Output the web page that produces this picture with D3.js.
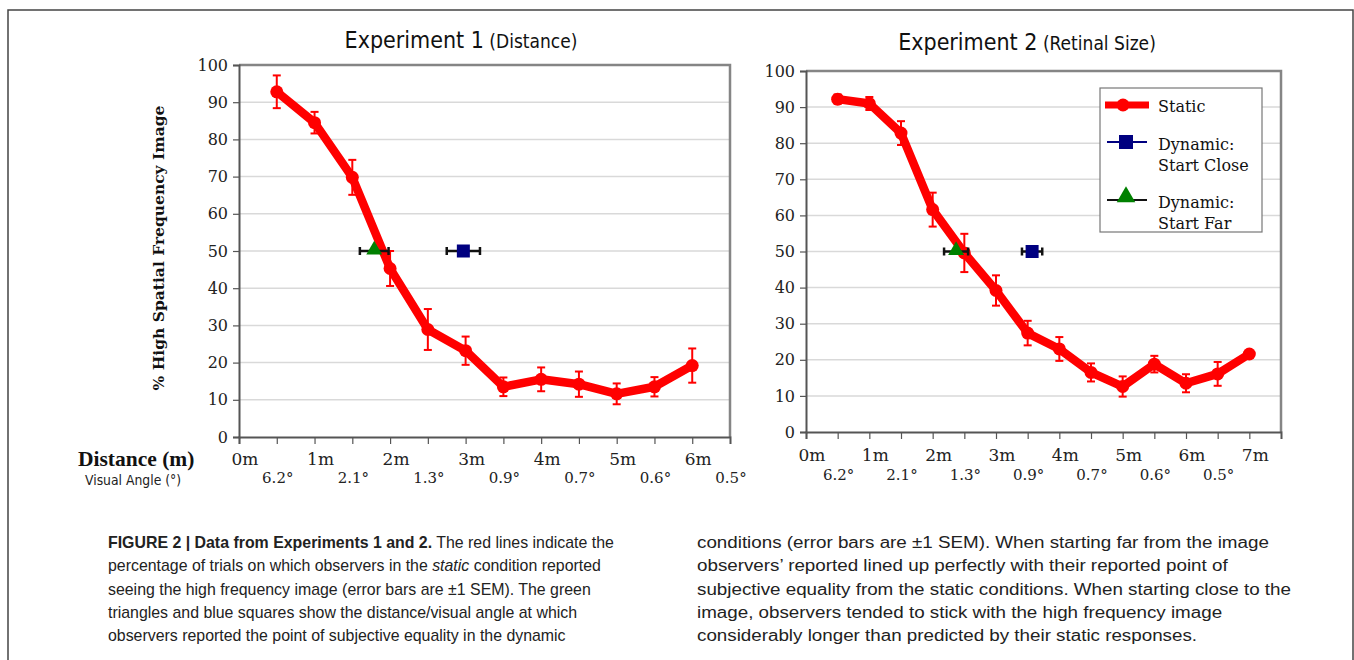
<!DOCTYPE html>
<html>
<head>
<meta charset="utf-8">
<script src="https://cdn.jsdelivr.net/npm/d3@7"></script>
<style>
  body { margin: 0; background: #fff; }
  svg { display: block; }
</style>
</head>
<body>
<script>
// ---- data ----
const exp1Distance = [0.5, 1, 1.5, 2, 2.5, 3, 3.5, 4, 4.5, 5, 5.5, 6];
const exp1Static = [92.8, 84.5, 69.8, 45.3, 28.9, 23.2, 13.5, 15.5, 14.2, 11.6, 13.5, 19.2];
const exp1StaticErr = [4.4, 2.9, 4.7, 4.7, 5.5, 3.8, 2.5, 3.2, 3.4, 2.8, 2.6, 4.6];

const exp2Distance = [0.5, 1, 1.5, 2, 2.5, 3, 3.5, 4, 4.5, 5, 5.5, 6, 6.5, 7];
const exp2Static = [92.2, 91, 82.8, 61.6, 49.6, 39.2, 27.4, 23, 16.5, 12.6, 18.8, 13.5, 16.1, 21.6];
const exp2StaticErr = [1.3, 1.8, 3.3, 4.7, 5.3, 4.2, 3.4, 3.3, 2.5, 2.8, 2.3, 2.5, 3.3, 0];

// dynamic conditions: [Start Close, Start Far]
const dynamicNames = ['Start Close', 'Start Far'];
const dynamicY = [50, 50];
const exp1DynamicX = [2.97, 1.79];
const exp1DynamicErr = [0.22, 0.19];
const exp2DynamicX = [3.57, 2.37];
const exp2DynamicErr = [0.16, 0.19];

const yTicks = [0, 10, 20, 30, 40, 50, 60, 70, 80, 90, 100];
const exp1MeterLabels = [0, 1, 2, 3, 4, 5, 6];
const exp2MeterLabels = [0, 1, 2, 3, 4, 5, 6, 7];
const exp1Angles = ['6.2°', '2.1°', '1.3°', '0.9°', '0.7°', '0.6°', '0.5°'];
const exp2Angles = ['6.2°', '2.1°', '1.3°', '0.9°', '0.7°', '0.6°', '0.5°'];

const legendNames = ['Static', 'Dynamic:', 'Dynamic:'];

const captionLeft = [
    [{ t: 'FIGURE 2 | Data from Experiments 1 and 2.', b: true }, { t: ' The red lines indicate the' }],
    [{ t: 'percentage of trials on which observers in the ' }, { t: 'static', i: true }, { t: ' condition reported' }],
    [{ t: 'seeing the high frequency image (error bars are ±1 SEM). The green' }],
    [{ t: 'triangles and blue squares show the distance/visual angle at which' }],
    [{ t: 'observers reported the point of subjective equality in the dynamic' }]
];
const captionRight = [
    'conditions (error bars are ±1 SEM). When starting far from the image',
    'observers’ reported lined up perfectly with their reported point of',
    'subjective equality from the static conditions. When starting close to the',
    'image, observers tended to stick with the high frequency image',
    'considerably longer than predicted by their static responses.'
];

const serif = '"DejaVu Serif", "Liberation Serif", serif';
const narrow = '"Liberation Sans Narrow", "DejaVu Sans Condensed", "Roboto", sans-serif';
const red = '#ff0000';

const svg = d3.select('body').append('svg')
    .attr('width', 1354)
    .attr('height', 660);

// outer frame of the figure
svg.append('path')
    .attr('d', 'M8,660 V10 H1353 V660')
    .attr('fill', 'none')
    .attr('stroke', '#444')
    .attr('stroke-width', 1.5);

function drawChart(cfg) {
    const x = d3.scaleLinear().domain([0, cfg.xMax]).range([cfg.left, cfg.right]);
    const y = d3.scaleLinear().domain([0, 100]).range([cfg.bottom, cfg.top]);
    const g = svg.append('g');

    // title
    const title = g.append('text')
        .attr('x', cfg.titleX)
        .attr('y', cfg.titleY)
        .attr('text-anchor', 'middle')
        .attr('font-family', narrow)
        .attr('fill', '#111');
    title.append('tspan').attr('font-size', 23).text(cfg.title);
    title.append('tspan').attr('font-size', 19).text(' ' + cfg.subtitle);

    // gridlines
    g.selectAll('.grid')
        .data(yTicks.filter(d => d > 0 && d < 100))
        .enter().append('line')
        .attr('x1', cfg.left).attr('x2', cfg.right)
        .attr('y1', d => y(d)).attr('y2', d => y(d))
        .attr('stroke', '#d9d9d9')
        .attr('stroke-width', 1.5);

    // top / right border
    g.append('path')
        .attr('d', `M${cfg.left},${cfg.top} H${cfg.right} V${cfg.bottom}`)
        .attr('fill', 'none')
        .attr('stroke', '#858585')
        .attr('stroke-width', 2.5);

    // y axis
    const yAxis = g.append('g')
        .attr('transform', `translate(${cfg.left},0)`)
        .call(d3.axisLeft(y).tickValues(yTicks).tickSize(6).tickPadding(5));
    yAxis.select('.domain').attr('stroke', '#555').attr('stroke-width', 2);
    yAxis.selectAll('.tick line').attr('stroke', '#555').attr('stroke-width', 1.2);
    yAxis.selectAll('.tick text')
        .attr('font-family', serif)
        .attr('font-size', 16)
        .attr('fill', '#222');

    // x axis with half-meter ticks
    const xTickVals = d3.range(0, cfg.tickMax + 0.01, 0.5);
    const xAxis = g.append('g')
        .attr('transform', `translate(0,${cfg.bottom})`)
        .call(d3.axisBottom(x).tickValues(xTickVals).tickSize(7).tickFormat(''));
    xAxis.select('.domain').attr('stroke', '#555').attr('stroke-width', 2);
    xAxis.selectAll('.tick line').attr('stroke', '#555').attr('stroke-width', 1.2);

    g.selectAll('.mlabel')
        .data(cfg.meterLabels)
        .enter().append('text')
        .attr('x', d => x(d) + 6)
        .attr('y', cfg.meterY)
        .attr('text-anchor', 'middle')
        .attr('font-family', serif)
        .attr('font-size', 17)
        .attr('fill', '#222')
        .text(d => d + 'm');

    g.selectAll('.alabel')
        .data(cfg.angles)
        .enter().append('text')
        .attr('x', (d, i) => x(i + 0.5) + 1)
        .attr('y', cfg.angleY)
        .attr('text-anchor', 'middle')
        .attr('font-family', serif)
        .attr('font-size', 15)
        .attr('fill', '#222')
        .text(d => d);

    // static condition: error bars, line, points
    const pts = cfg.dist.map((d, i) => ({ x: d, y: cfg.vals[i], e: cfg.errs[i] }));
    const eb = g.selectAll('.eb').data(pts.filter(p => p.e > 0)).enter().append('g')
        .attr('stroke', red).attr('stroke-width', 2).attr('fill', 'none');
    eb.append('line')
        .attr('x1', p => x(p.x)).attr('x2', p => x(p.x))
        .attr('y1', p => y(p.y - p.e)).attr('y2', p => y(p.y + p.e));
    eb.append('line')
        .attr('x1', p => x(p.x) - 4).attr('x2', p => x(p.x) + 4)
        .attr('y1', p => y(p.y + p.e)).attr('y2', p => y(p.y + p.e));
    eb.append('line')
        .attr('x1', p => x(p.x) - 4).attr('x2', p => x(p.x) + 4)
        .attr('y1', p => y(p.y - p.e)).attr('y2', p => y(p.y - p.e));

    g.append('path')
        .datum(pts)
        .attr('d', d3.line().x(p => x(p.x)).y(p => y(p.y)))
        .attr('fill', 'none')
        .attr('stroke', red)
        .attr('stroke-width', 8.5)
        .attr('stroke-linejoin', 'round');

    g.selectAll('.pt').data(pts).enter().append('circle')
        .attr('cx', p => x(p.x)).attr('cy', p => y(p.y))
        .attr('r', 6.5)
        .attr('fill', red);

    // dynamic conditions
    cfg.dynX.forEach((dx, i) => {
        const cy = y(dynamicY[i]);
        const x0 = x(dx - cfg.dynErr[i]);
        const x1 = x(dx + cfg.dynErr[i]);
        const bar = g.append('g').attr('stroke', '#111').attr('stroke-width', 2.5);
        bar.append('line').attr('x1', x0).attr('x2', x1).attr('y1', cy).attr('y2', cy);
        bar.append('line').attr('x1', x0).attr('x2', x0).attr('y1', cy - 4).attr('y2', cy + 4);
        bar.append('line').attr('x1', x1).attr('x2', x1).attr('y1', cy - 4).attr('y2', cy + 4);
        if (dynamicNames[i] === 'Start Close') {
            g.append('rect')
                .attr('x', x(dx) - 6.5).attr('y', cy - 6.5)
                .attr('width', 13).attr('height', 13)
                .attr('fill', '#000080');
        } else {
            g.append('path')
                .attr('d', d3.symbol().type(d3.symbolTriangle).size(110)())
                .attr('transform', `translate(${x(dx)},${cy - 1})`)
                .attr('fill', '#008000');
        }
    });

    return { x, y, g };
}

drawChart({
    left: 239, right: 730, top: 65, bottom: 437,
    xMax: 6.5, tickMax: 6,
    title: 'Experiment 1', subtitle: '(Distance)', titleX: 461, titleY: 48,
    meterLabels: exp1MeterLabels, angles: exp1Angles,
    meterY: 465, angleY: 483,
    dist: exp1Distance, vals: exp1Static, errs: exp1StaticErr,
    dynX: exp1DynamicX, dynErr: exp1DynamicErr
});

drawChart({
    left: 806, right: 1281, top: 71, bottom: 432,
    xMax: 7.5, tickMax: 7,
    title: 'Experiment 2', subtitle: '(Retinal Size)', titleX: 1027, titleY: 50,
    meterLabels: exp2MeterLabels, angles: exp2Angles,
    meterY: 461, angleY: 480,
    dist: exp2Distance, vals: exp2Static, errs: exp2StaticErr,
    dynX: exp2DynamicX, dynErr: exp2DynamicErr
});

// y axis title, left chart
svg.append('text')
    .attr('transform', 'translate(164,248) rotate(-90)')
    .attr('text-anchor', 'middle')
    .attr('font-family', serif)
    .attr('font-weight', 'bold')
    .attr('font-size', 15.5)
    .attr('fill', '#111')
    .text('% High Spatial Frequency Image');

svg.append('text')
    .attr('x', 78).attr('y', 466)
    .attr('font-family', '"Liberation Serif", serif')
    .attr('font-weight', 'bold')
    .attr('font-size', 21.5)
    .attr('fill', '#111')
    .text('Distance (m)');

svg.append('text')
    .attr('x', 85).attr('y', 485)
    .attr('font-family', narrow)
    .attr('font-size', 13.8)
    .attr('fill', '#222')
    .text('Visual Angle (°)');

// legend in Experiment 2
const lg = svg.append('g').attr('transform', 'translate(1100,88)');
lg.append('rect')
    .attr('width', 162).attr('height', 144)
    .attr('fill', '#fff')
    .attr('stroke', '#777')
    .attr('stroke-width', 1.2);
lg.append('line').attr('x1', 5).attr('x2', 49).attr('y1', 17).attr('y2', 17)
    .attr('stroke', red).attr('stroke-width', 7);
lg.append('circle').attr('cx', 23).attr('cy', 17).attr('r', 6.5).attr('fill', red);
lg.append('line').attr('x1', 7).attr('x2', 47).attr('y1', 54).attr('y2', 54)
    .attr('stroke', '#000080').attr('stroke-width', 2);
lg.append('rect').attr('x', 19).attr('y', 47).attr('width', 14).attr('height', 14).attr('fill', '#000080');
lg.append('line').attr('x1', 7).attr('x2', 47).attr('y1', 112).attr('y2', 112)
    .attr('stroke', '#111').attr('stroke-width', 2);
lg.append('path')
    .attr('d', d3.symbol().type(d3.symbolTriangle).size(150)())
    .attr('transform', 'translate(26,109)')
    .attr('fill', '#008000');

const legendLines = [[legendNames[0]], [legendNames[1], dynamicNames[0]], [legendNames[2], dynamicNames[1]]];
const legendY = [24, 62, 120];
legendLines.forEach((lines, i) => {
    lines.forEach((t, j) => {
        lg.append('text')
            .attr('x', 58).attr('y', legendY[i] + j * 21)
            .attr('font-family', serif)
            .attr('font-size', 16)
            .attr('fill', '#111')
            .text(t);
    });
});

// caption (the right column is set wider in the original)
const capFont = '"Liberation Sans", Arial, sans-serif';
captionLeft.forEach((parts, i) => {
    const t = svg.append('text')
        .attr('x', 108).attr('y', 548 + i * 23.3)
        .attr('font-family', capFont)
        .attr('font-size', 15.9)
        .attr('fill', '#222');
    parts.forEach(p => {
        t.append('tspan')
            .attr('font-weight', p.b ? 'bold' : null)
            .attr('font-style', p.i ? 'italic' : null)
            .text(p.t);
    });
});
const capRight = svg.append('g').attr('transform', 'translate(697,0) scale(1.175,1)');
captionRight.forEach((line, i) => {
    capRight.append('text')
        .attr('x', 0).attr('y', 548 + i * 23.3)
        .attr('font-family', capFont)
        .attr('font-size', 16)
        .attr('fill', '#222')
        .text(line);
});
</script>
</body>
</html>
